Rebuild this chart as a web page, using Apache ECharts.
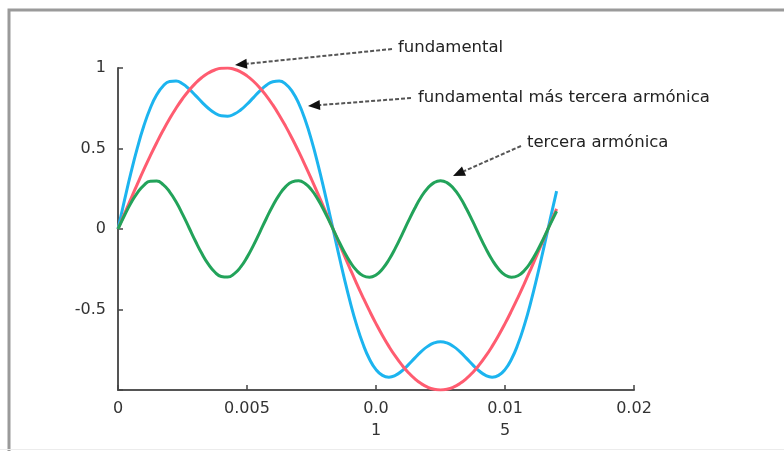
<!DOCTYPE html>
<html>
<head>
<meta charset="utf-8">
<script src="https://cdn.jsdelivr.net/npm/echarts@6/dist/echarts.min.js"></script>
<style>
html,body{margin:0;padding:0;background:#fff;}
#chart{width:784px;height:451px;}
</style>
</head>
<body>
<div id="chart"></div>
<script>
// time samples (s), step 0.00025 s from 0 to 0.017
var times = [0,0.00025,0.0005,0.00075,0.001,0.00125,0.0015,0.00175,0.002,0.00225,0.0025,0.00275,0.003,0.00325,0.0035,0.00375,0.004,0.00425,0.0045,0.00475,0.005,0.00525,0.0055,0.00575,0.006,0.00625,0.0065,0.00675,0.007,0.00725,0.0075,0.00775,0.008,0.00825,0.0085,0.00875,0.009,0.00925,0.0095,0.00975,0.01,0.01025,0.0105,0.01075,0.011,0.01125,0.0115,0.01175,0.012,0.01225,0.0125,0.01275,0.013,0.01325,0.0135,0.01375,0.014,0.01425,0.0145,0.01475,0.015,0.01525,0.0155,0.01575,0.016,0.01625,0.0165,0.01675,0.017];

var fundamental = [0,0.0941,0.1874,0.2790,0.3681,0.4540,0.5358,0.6129,0.6845,0.7501,0.8090,0.8607,0.9048,0.9409,0.9686,0.9877,0.9980,0.9995,0.9921,0.9759,0.9511,0.9178,0.8763,0.8271,0.7705,0.7071,0.6374,0.5621,0.4818,0.3971,0.3090,0.2181,0.1253,0.0314,-0.0628,-0.1564,-0.2487,-0.3387,-0.4258,-0.5090,-0.5878,-0.6613,-0.7290,-0.7902,-0.8443,-0.8910,-0.9298,-0.9603,-0.9823,-0.9956,-1,-0.9956,-0.9823,-0.9603,-0.9298,-0.8910,-0.8443,-0.7902,-0.7290,-0.6613,-0.5878,-0.5090,-0.4258,-0.3387,-0.2487,-0.1564,-0.0628,0.0314,0.1253];

var terceraArmonica = [0,0.0837,0.1607,0.2250,0.2714,0.2963,0.2976,0.2753,0.2311,0.1686,0.0927,0.0094,-0.0746,-0.1527,-0.2187,-0.2673,-0.2947,-0.2987,-0.2789,-0.2371,-0.1763,-0.1016,-0.0188,0.0654,0.1445,0.2121,0.2629,0.2928,0.2994,0.2823,0.2427,0.1839,0.1104,0.0282,-0.0562,-0.1362,-0.2054,-0.2582,-0.2906,-0.2999,-0.2853,-0.2481,-0.1912,-0.1191,-0.0376,0.0469,0.1277,0.1984,0.2533,0.2881,0.3,0.2881,0.2533,0.1984,0.1277,0.0469,-0.0376,-0.1191,-0.1912,-0.2481,-0.2853,-0.2999,-0.2906,-0.2582,-0.2054,-0.1362,-0.0562,0.0282,0.1104];

var suma = [0,0.1778,0.3481,0.5040,0.6395,0.7503,0.8334,0.8882,0.9156,0.9187,0.9017,0.8701,0.8302,0.7882,0.7499,0.7204,0.7033,0.7008,0.7132,0.7388,0.7748,0.8162,0.8575,0.8925,0.9150,0.9192,0.9003,0.8549,0.7812,0.6794,0.5517,0.4020,0.2357,0.0596,-0.1190,-0.2926,-0.4541,-0.5969,-0.7164,-0.8089,-0.8731,-0.9094,-0.9202,-0.9093,-0.8819,-0.8441,-0.8021,-0.7619,-0.7290,-0.7075,-0.7,-0.7075,-0.7290,-0.7619,-0.8021,-0.8441,-0.8819,-0.9093,-0.9202,-0.9094,-0.8731,-0.8089,-0.7164,-0.5969,-0.4541,-0.2926,-0.1190,0.0596,0.2357];

var xTickValues = [0,0.005,0.01,0.015,0.02];
var xTickLabels = ['0','0.005','0.0\n1','0.01\n5','0.02'];
var yTickValues = [-1,-0.5,0,0.5,1];
var yTickLabels = ['','-0.5','0','0.5','1'];

var annotations = [
  {text:'fundamental', tx:398, ty:48, from:[392,49], to:[235,65]},
  {text:'fundamental más tercera armónica', tx:418, ty:98, from:[411,98], to:[308,106]},
  {text:'tercera armónica', tx:527, ty:143, from:[521,146], to:[453,176]}
];

function pairs(vals){ return times.map(function(t,i){ return [t, vals[i]]; }); }
function lookup(vals, labels, v){
  for (var i=0;i<vals.length;i++){ if (Math.abs(vals[i]-v)<1e-9) return labels[i]; }
  return '';
}

var graphics = [
  {type:'rect', shape:{x:9,y:10,width:790,height:450}, style:{fill:'none',stroke:'#9a9a9a',lineWidth:3}, z:0},
  {type:'line', shape:{x1:0,y1:449.5,x2:784,y2:449.5}, style:{stroke:'#ececec',lineWidth:1}}
];
annotations.forEach(function(a){
  var dx=a.to[0]-a.from[0], dy=a.to[1]-a.from[1];
  var L=Math.sqrt(dx*dx+dy*dy), ux=dx/L, uy=dy/L;
  var hl=12, hw=5;
  var bx=a.to[0]-ux*hl, by=a.to[1]-uy*hl;
  graphics.push({type:'line', shape:{x1:a.from[0],y1:a.from[1],x2:bx,y2:by},
    style:{stroke:'#555',lineWidth:2,lineDash:[4,2]}, z:10});
  graphics.push({type:'polygon', shape:{points:[[a.to[0],a.to[1]],[bx-uy*hw,by+ux*hw],[bx+uy*hw,by-ux*hw]]},
    style:{fill:'#111'}, z:10});
  graphics.push({type:'text', x:a.tx, y:a.ty, style:{text:a.text, fill:'#222',
    font:'16.5px "DejaVu Sans"', textVerticalAlign:'middle', textAlign:'left'}, z:10});
});

var chart = echarts.init(document.getElementById('chart'), null, {renderer:'canvas'});
var axisCommon = {
  axisLine:{show:true, onZero:false, lineStyle:{color:'#555', width:2}},
  axisTick:{show:true, inside:true, length:5, lineStyle:{color:'#444', width:1.5}},
  splitLine:{show:false},
  axisLabel:{color:'#333', fontSize:16, fontFamily:'DejaVu Sans'}
};
chart.setOption({
  animation:false,
  backgroundColor:'#fff',
  grid:{left:118, right:150, top:68, bottom:61, containLabel:false},
  xAxis:Object.assign({}, axisCommon, {
    type:'value', min:0, max:0.02, interval:0.005,
    axisLabel:Object.assign({}, axisCommon.axisLabel, {margin:8, lineHeight:22,
      formatter:function(v){ return lookup(xTickValues, xTickLabels, v); }})
  }),
  yAxis:Object.assign({}, axisCommon, {
    type:'value', min:-1, max:1, interval:0.5,
    axisLabel:Object.assign({}, axisCommon.axisLabel, {margin:12,
      formatter:function(v){ return lookup(yTickValues, yTickLabels, v); }})
  }),
  series:[
    {name:'fundamental', type:'line', data:pairs(fundamental), smooth:true, showSymbol:false,
      lineStyle:{color:'#ff5c70', width:3}, z:3},
    {name:'tercera armónica', type:'line', data:pairs(terceraArmonica), smooth:true, showSymbol:false,
      lineStyle:{color:'#22a35a', width:3}, z:4},
    {name:'fundamental más tercera armónica', type:'line', data:pairs(suma), smooth:true, showSymbol:false,
      lineStyle:{color:'#1cb4ef', width:3}, z:2}
  ],
  graphic:graphics
});
</script>
</body>
</html>
